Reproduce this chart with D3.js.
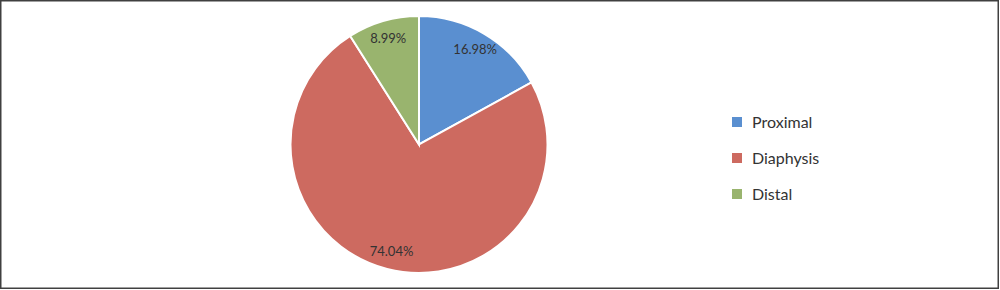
<!DOCTYPE html>
<html>
<head>
<meta charset="utf-8">
<script src="https://cdn.jsdelivr.net/npm/d3@7"></script>
<style>
  body { margin: 0; background: #fff; }
  text { font-family: Lato, "Open Sans", sans-serif; fill: #333; }
</style>
</head>
<body>
<div class="pie-container"></div>
<script>
// Data
const categories = ['Proximal', 'Diaphysis', 'Distal'];
const values = [16.98, 74.04, 8.99];
const colors = ['#5A8FD0', '#CD6A60', '#99B46E'];

const W = 1000, H = 290;
const cx = 419, cy = 144.5, radius = 128.5;

const svg = d3.select('.pie-container')
    .append('svg')
    .attr('width', W)
    .attr('height', H);

// frame
svg.append('rect')
    .attr('x', 0.75).attr('y', 0.75)
    .attr('width', W - 2.5).attr('height', H - 2.5)
    .attr('fill', 'none')
    .attr('stroke', '#404040')
    .attr('stroke-width', 1.5);

const data = categories.map((c, i) => ({cat: c, value: values[i]}));

const pie = d3.pie().value(d => d.value).sort(null);
const arc = d3.arc().innerRadius(0).outerRadius(radius);
const labelArc = d3.arc().innerRadius(radius * 0.86).outerRadius(radius * 0.86);

const color = d3.scaleOrdinal(categories, colors);

const g = svg.append('g').attr('transform', `translate(${cx}, ${cy})`);

const slices = pie(data);

g.selectAll('.slice')
    .data(slices)
    .enter()
    .append('path')
    .attr('class', 'slice')
    .attr('d', arc)
    .style('fill', d => color(d.data.cat))
    .style('stroke', '#fff')
    .style('stroke-width', 2);

g.selectAll('.label')
    .data(slices)
    .enter()
    .append('text')
    .attr('class', 'label')
    .attr('transform', d => `translate(${labelArc.centroid(d)})`)
    .attr('text-anchor', 'middle')
    .attr('dy', '0.35em')
    .style('font-size', '13px')
    .text(d => d3.format('.2f')(d.data.value) + '%');

// Legend
const legend = svg.append('g')
    .attr('transform', 'translate(732, 122)');

const items = legend.selectAll('.item')
    .data(categories)
    .enter()
    .append('g')
    .attr('class', 'item')
    .attr('transform', (d, i) => `translate(0, ${i * 36})`);

items.append('rect')
    .attr('x', 0).attr('y', -5)
    .attr('width', 10).attr('height', 10)
    .style('fill', d => color(d));

items.append('text')
    .attr('x', 20)
    .attr('dy', '0.36em')
    .style('font-size', '16px')
    .text(d => d);
</script>
</body>
</html>
